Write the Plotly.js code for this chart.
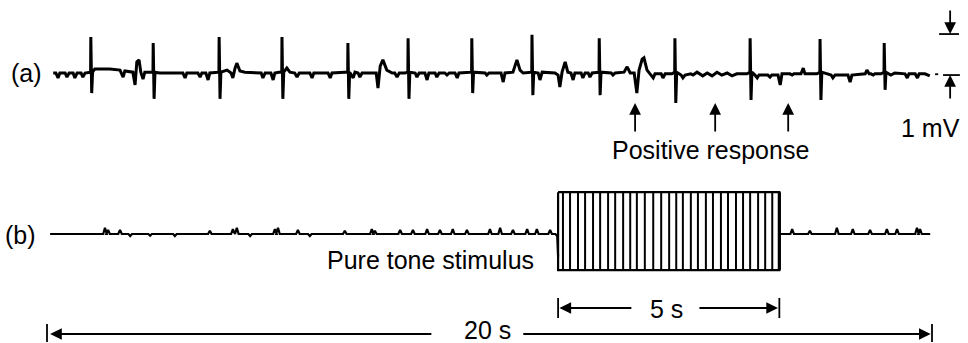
<!DOCTYPE html>
<html><head><meta charset="utf-8">
<script src="https://cdn.plot.ly/plotly-3.0.1.min.js"></script>
<style>html,body{margin:0;padding:0;background:#fff;}#chart{width:968px;height:343px;}</style>
</head><body><div id="chart"></div>
<script>
// ---------- DATA ----------
const totalDuration = 20;          // s
const stimOnset = 11.55;           // s
const stimDuration = 5;            // s
const scaleBarMv = 1;              // mV
const scaleBarBase = -0.05;        // mV, baseline at right end of trace (a)

// trace (a): QRS spikes (s, mV)
const spikeTimes = [0.99, 2.40, 3.89, 5.31, 6.80, 8.16, 9.60, 10.96, 12.48, 14.19, 15.89, 17.47, 18.92];
const spikeUp    = [0.88, 0.73, 0.88, 0.88, 0.73, 0.85, 0.85, 0.93, 0.85, 0.85, 0.85, 0.83, 0.73];
const spikeDown  = [-0.49, -0.63, -0.63, -0.63, -0.63, -0.63, -0.49, -0.54, -0.54, -0.73, -0.66, -0.66, -0.41];

// trace (a): baseline activity between spikes (s, mV)
const waveTimes = [0.14,0.20,0.25,0.29,0.41,0.45,0.50,0.59,0.63,0.68,0.77,0.81,0.86,0.95,
 1.08,1.42,1.65,1.72,1.76,1.94,1.99,2.03,2.08,2.12,2.17,2.21,2.35,
 2.55,3.07,3.12,3.16,3.41,3.46,3.50,3.59,3.64,3.68,3.82,
 4.07,4.16,4.20,4.25,4.29,4.36,4.47,4.84,4.88,4.93,5.06,5.11,5.15,5.24,
 5.42,5.49,5.60,5.65,5.70,5.94,5.99,6.03,6.35,6.40,6.44,6.73,
 6.92,6.96,7.03,7.07,7.12,7.44,7.48,7.53,7.59,7.68,7.80,7.86,7.91,7.96,8.09,
 8.32,8.36,8.41,8.54,8.59,8.63,8.77,8.81,8.86,8.99,9.04,9.09,9.22,9.27,9.31,9.54,
 9.90,9.94,9.99,10.26,10.31,10.35,10.53,10.62,10.69,10.76,10.89,
 11.10,11.14,11.19,11.48,11.55,11.59,11.64,11.71,11.77,11.84,11.89,11.93,12.07,12.11,12.16,12.23,12.27,12.32,12.41,
 12.75,12.79,12.84,13.04,13.11,13.18,13.27,13.33,13.38,13.45,13.49,13.56,13.63,13.70,13.74,13.88,13.92,13.97,14.12,
 14.33,14.37,14.42,14.55,14.60,14.69,14.82,14.92,15.03,15.14,15.25,15.37,15.48,15.59,15.82,
 16.00,16.05,16.09,16.29,16.34,16.38,16.52,16.57,16.61,16.79,16.84,16.88,17.04,17.09,17.13,17.40,
 17.72,17.76,17.81,18.10,18.15,18.19,18.49,18.53,18.58,18.62,18.67,18.71,18.85,
 19.07,19.16,19.39,19.44,19.48,19.62,19.67,19.71,19.84,19.95];
const waveValues = [0,0,-0.12,0,0,-0.10,0,0,-0.12,0,0,-0.10,0,0.02,
 0.10,0.10,0.07,-0.10,0.05,0.02,-0.29,0.27,0.32,0.02,-0.15,0.02,0.02,
 0,0,-0.12,0,0,-0.10,0,0,-0.17,0,0.02,
 0.07,0,-0.12,0.12,0.24,0.05,0.02,0,-0.12,0,0,-0.17,0,0.02,
 0.12,0.02,0,-0.10,0,0,-0.12,0,0,-0.12,0,0.02,
 -0.12,0.02,0,-0.10,0,0,-0.37,0.17,0.32,0.07,0,0,-0.10,0,0,
 0,-0.10,0,0,-0.17,0,0,-0.10,0,0,-0.05,0,0,-0.12,0,0.02,
 0,-0.05,0,0,-0.22,0,0.02,0.32,0.07,0,0.02,
 0,-0.17,0.02,0,-0.05,-0.34,0.02,0.27,0.02,0,-0.17,0,0,-0.12,0,0,-0.10,0,0.02,
 0,-0.05,0,0.02,0.15,0,0,-0.49,0.07,0.34,0.37,0.07,-0.02,-0.12,-0.02,-0.02,-0.12,-0.02,-0.02,
 -0.05,-0.12,-0.05,-0.02,-0.05,0.02,-0.07,0,-0.07,0.02,-0.05,0,-0.07,-0.02,-0.02,
 -0.05,-0.12,-0.05,-0.05,-0.10,-0.05,-0.05,-0.29,-0.02,-0.02,-0.05,-0.02,-0.02,0.12,-0.02,-0.02,
 -0.05,-0.12,-0.05,-0.05,-0.22,-0.05,-0.02,0.07,-0.02,-0.02,-0.05,-0.02,-0.02,
 -0.05,0,-0.02,-0.12,-0.02,-0.02,-0.12,-0.02,-0.02,-0.07];

// positive responses marked with arrows (s)
const responseTimes = [13.29, 15.10, 16.75];

// trace (b): small artefacts (s, mV)
const bStart = 0.07, bEnd = 19.96;
const bBumpTimes = [1.31,1.38,1.65,1.88,2.33,2.89,3.68,4.20,4.29,4.59,5.15,5.22,5.67,5.94,6.73,7.34,7.41,7.98,8.27,8.59,8.88,9.17,9.49,10.01,10.24,10.53,10.85,11.07,11.37,
 16.84,17.24,17.85,18.21,18.60,18.98,19.21,19.66,19.73];
const bBumpValues = [0.15,0.10,0.10,-0.05,-0.04,-0.05,0.08,0.12,0.15,-0.05,0.12,0.15,0.10,-0.05,0.08,0.12,0.08,0.10,0.10,0.12,0.10,0.12,0.10,0.12,0.15,0.10,0.12,0.12,0.10,
 0.12,0.08,0.15,0.12,0.10,0.12,0.12,0.15,0.12];
const onsetDip = -0.55;

// pure-tone stimulus: envelope and drawn cycle lines (s)
const toneTop = 1.02, toneBottom = -0.88;
const toneLineTimes = [11.66,11.82,12.00,12.16,12.34,12.50,12.68,12.84,13.02,13.18,13.33,13.51,13.70,13.88,14.06,14.22,14.37,14.55,14.71,14.89,15.05,15.23,15.39,15.57,15.73,15.89,16.07,16.23,16.39];

// ---------- BUILD ----------
const stimOffset = stimOnset + stimDuration;
const spikeW = 0.02, bumpW = 0.04;

let aPts = waveTimes.map((t,i)=>[t, waveValues[i]]);
spikeTimes.forEach((t,i)=>{
  aPts.push([t-0.005, 0.02]);
  aPts.push([t, spikeUp[i]]);
  aPts.push([t+spikeW, spikeDown[i]]);
  aPts.push([t+2*spikeW, 0.02]);
});
aPts.sort((p,q)=>p[0]-q[0]);

function bSegment(t0, t1){
  const pts=[[t0,0]];
  bBumpTimes.forEach((t,i)=>{ if(t>t0 && t<t1){ pts.push([t-bumpW,0]); pts.push([t,bBumpValues[i]]); pts.push([t+bumpW,0]); }});
  pts.push([t1,0]);
  return pts;
}
const bPre = bSegment(bStart, stimOnset-0.06);
bPre.push([stimOnset-0.02, -0.05]); bPre.push([stimOnset, onsetDip]);
const bPost = bSegment(stimOffset, bEnd);
const bX = bPre.map(p=>p[0]).concat([null], bPost.map(p=>p[0]));
const bY = bPre.map(p=>p[1]).concat([null], bPost.map(p=>p[1]));

const toneX=[], toneY=[];
toneLineTimes.forEach(t=>{ toneX.push(t,t,null); toneY.push(toneTop,toneBottom,null); });

const X0 = -47/44.25, X1 = (968-47)/44.25;
const px = v => v/968, py = v => 1 - v/343;
const font = {family:'"Liberation Sans", Arial, Helvetica, sans-serif', size:25, color:'#000'};

const traces = [
  {x:aPts.map(p=>p[0]), y:aPts.map(p=>p[1]), mode:'lines', line:{color:'#000', width:3}, yaxis:'y', hoverinfo:'skip'},
  {x:bX, y:bY, mode:'lines', line:{color:'#000', width:2.2}, yaxis:'y2', hoverinfo:'skip'},
  {x:toneX, y:toneY, mode:'lines', line:{color:'#000', width:2}, yaxis:'y2', hoverinfo:'skip'},
  {x:[stimOnset, stimOffset, stimOffset, stimOnset, stimOnset], y:[toneTop, toneTop, toneBottom, toneBottom, toneTop], mode:'lines', line:{color:'#000', width:2.2}, yaxis:'y2', hoverinfo:'skip'},
  {x:[stimOffset, stimOffset], y:[toneTop, toneBottom], mode:'lines', line:{color:'#000', width:3.2}, yaxis:'y2', hoverinfo:'skip'}
];

const txt = (x, y, text) => ({xref:'paper', yref:'paper', x:px(x), y:py(y), text:text, showarrow:false, font:font, xanchor:'center', yanchor:'middle'});
const arrowStyle = {showarrow:true, text:'', arrowhead:2, arrowsize:1.3, arrowwidth:1.8, arrowcolor:'#000', standoff:0, startstandoff:0};
const annotations = [
  txt(26, 73, '(a)'),
  txt(20, 235, '(b)'),
  txt(710, 150, 'Positive response'),
  txt(430, 260, 'Pure tone stimulus'),
  txt(930, 128, scaleBarMv + ' mV'),
  txt(666, 309, stimDuration + ' s'),
  txt(487, 330, totalDuration + ' s'),
];
responseTimes.forEach(t=>annotations.push(Object.assign({xref:'x', yref:'paper', x:t, y:py(103), ax:0, ay:30}, arrowStyle)));
// 20 s arrows
annotations.push(Object.assign({xref:'x', yref:'paper', axref:'x', x:0.07, y:py(334), ax:8.72, ay:0}, arrowStyle));
annotations.push(Object.assign({xref:'x', yref:'paper', axref:'x', x:totalDuration-0.03, y:py(334), ax:10.73, ay:0}, arrowStyle));
// 5 s arrows
annotations.push(Object.assign({xref:'x', yref:'paper', axref:'x', x:stimOnset+0.03, y:py(308), ax:13.24, ay:0}, arrowStyle));
annotations.push(Object.assign({xref:'x', yref:'paper', axref:'x', x:stimOffset-0.03, y:py(308), ax:14.71, ay:0}, arrowStyle));
// 1 mV scale arrows
const scaleX = 20.41;
annotations.push(Object.assign({xref:'x', yref:'y', x:scaleX, y:scaleBarBase+scaleBarMv, ax:0, ay:-25}, arrowStyle));
annotations.push(Object.assign({xref:'x', yref:'y', x:scaleX, y:scaleBarBase, ax:0, ay:25}, arrowStyle));

const ln = {color:'#000', width:1.8};
const shapes = [
  {type:'line', xref:'x', yref:'paper', x0:0, x1:0, y0:py(324), y1:py(342), line:ln},
  {type:'line', xref:'x', yref:'paper', x0:totalDuration, x1:totalDuration, y0:py(324), y1:py(342), line:ln},
  {type:'line', xref:'x', yref:'paper', x0:stimOnset, x1:stimOnset, y0:py(298), y1:py(318), line:ln},
  {type:'line', xref:'x', yref:'paper', x0:stimOffset, x1:stimOffset, y0:py(298), y1:py(318), line:ln},
  {type:'line', xref:'x', yref:'y', x0:scaleX-0.25, x1:scaleX+0.2, y0:scaleBarBase+scaleBarMv, y1:scaleBarBase+scaleBarMv, line:ln},
  {type:'line', xref:'x', yref:'y', x0:scaleX-0.16, x1:scaleX+0.22, y0:scaleBarBase, y1:scaleBarBase, line:ln},
  {type:'line', xref:'x', yref:'y', x0:scaleX-0.34, x1:scaleX-0.27, y0:scaleBarBase+0.02, y1:scaleBarBase+0.02, line:ln}
];

const layout = {
  width:968, height:343, margin:{l:0,r:0,t:0,b:0}, paper_bgcolor:'#fff', plot_bgcolor:'#fff',
  showlegend:false,
  xaxis:{range:[X0,X1], visible:false, fixedrange:true},
  yaxis:{range:[(73-343)/41, 73/41], visible:false, fixedrange:true},
  yaxis2:{range:[(234-343)/41, 234/41], visible:false, overlaying:'y', fixedrange:true},
  annotations:annotations, shapes:shapes
};
Plotly.newPlot('chart', traces, layout, {staticPlot:true, displayModeBar:false});
</script></body></html>
